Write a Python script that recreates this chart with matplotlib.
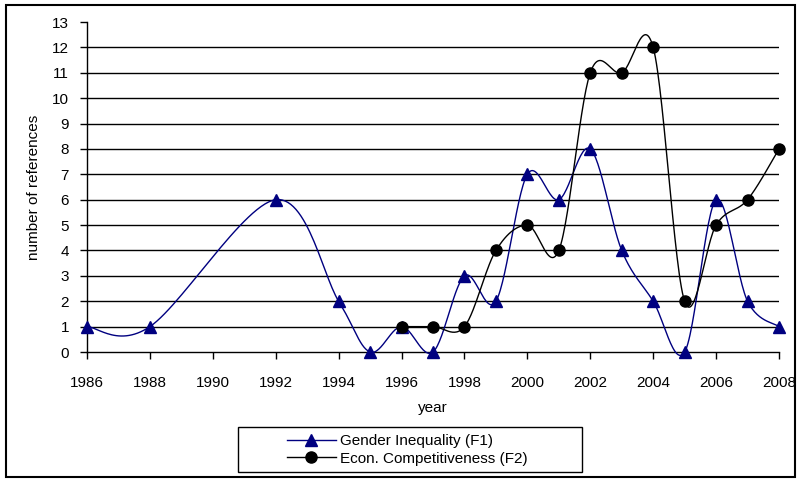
import numpy as np
import matplotlib
matplotlib.use("Agg")
import matplotlib.pyplot as plt
from matplotlib.patches import Rectangle
from matplotlib.lines import Line2D

plt.rcParams['font.family'] = ['Liberation Sans', 'DejaVu Sans']

years_f1 = [1986, 1988, 1992, 1994, 1995, 1996, 1997, 1998, 1999, 2000, 2001, 2002, 2003, 2004, 2005, 2006, 2007, 2008]
f1 = [1, 1, 6, 2, 0, 1, 0, 3, 2, 7, 6, 8, 4, 2, 0, 6, 2, 1]
years_f2 = [1996, 1997, 1998, 1999, 2000, 2001, 2002, 2003, 2004, 2005, 2006, 2007, 2008]
f2 = [1, 1, 1, 4, 5, 4, 11, 11, 12, 2, 5, 6, 8]
xticks = list(range(1986, 2009, 2))
yticks = list(range(0, 14))


def smooth(x, y, n=30):
    # Excel-like smoothing: cubic Bezier with Catmull-Rom control points
    x = np.asarray(x, float)
    y = np.asarray(y, float)
    P = np.column_stack([x, y])
    out = []
    for i in range(len(P) - 1):
        p0 = P[i - 1] if i > 0 else P[i]
        p1 = P[i]
        p2 = P[i + 1]
        p3 = P[i + 2] if i + 2 < len(P) else P[i + 1]
        c1 = p1 + (p2 - p0) / 6.0
        c2 = p2 - (p3 - p1) / 6.0
        t = np.linspace(0, 1, n)[:, None]
        seg = ((1 - t) ** 3) * p1 + 3 * ((1 - t) ** 2) * t * c1 + 3 * (1 - t) * t ** 2 * c2 + t ** 3 * p2
        if i > 0:
            seg = seg[1:]
        out.append(seg)
    out = np.vstack(out)
    return out[:, 0], out[:, 1]


W, H = 801, 482
fig = plt.figure(figsize=(W / 100, H / 100), dpi=100)
fig.patches.append(Rectangle((6 / W, 5 / H), 789 / W, 472 / H, transform=fig.transFigure,
                             fill=False, edgecolor='black', linewidth=1.5))

left, right = 87 / W, 779 / W
bottom, top = 1 - 352 / H, 1 - 22 / H
ax = fig.add_axes([left, bottom, right - left, top - bottom])
ax.set_xlim(1986, 2008)
ax.set_ylim(0, 13)

for v in yticks[1:-1]:
    ax.axhline(v, color='black', linewidth=1.0, zorder=1)

navy = '#000080'
sx, sy = smooth(years_f1, f1)
ax.plot(sx, sy, color=navy, linewidth=1.0, zorder=3, clip_on=False)
ax.plot(years_f1, f1, linestyle='none', marker='^', markersize=9, color=navy, zorder=4, clip_on=False)
sx, sy = smooth(years_f2, f2)
ax.plot(sx, sy, color='black', linewidth=1.0, zorder=3, clip_on=False)
ax.plot(years_f2, f2, linestyle='none', marker='o', markersize=8, color='black', zorder=4, clip_on=False)

ax.spines['top'].set_visible(False)
ax.spines['right'].set_visible(False)
ax.spines['left'].set_linewidth(1.0)
ax.spines['bottom'].set_linewidth(1.0)
ax.set_xticks(xticks)
ax.set_xticklabels([str(v) for v in xticks], fontsize=11)
ax.set_yticks(yticks)
ax.set_yticklabels([str(v) for v in yticks], fontsize=11)
ax.tick_params(axis='both', direction='out', length=5, width=1, colors='black')
ax.tick_params(axis='x', pad=12)
ax.tick_params(axis='y', pad=8)
ax.set_xlabel('year', fontsize=11, labelpad=8)
ax.set_ylabel('number of references', fontsize=11, labelpad=8)

# legend frame
fig.patches.append(Rectangle((238 / W, 1 - 472 / H), 344 / W, 45 / H, transform=fig.transFigure,
                             fill=False, edgecolor='black', linewidth=1.0))
handles = [Line2D([], [], color=navy, marker='^', markersize=9, linewidth=1.0),
           Line2D([], [], color='black', marker='o', markersize=8, linewidth=1.0)]
leg = fig.legend(handles, ['Gender Inequality (F1)', 'Econ. Competitiveness (F2)'],
                 loc='center left', bbox_to_anchor=(279 / W, 1 - 450 / H), fontsize=11,
                 frameon=False, handlelength=3.2, borderpad=0.0, labelspacing=0.2,
                 handletextpad=0.3)

fig.savefig('out.png', dpi=100)
